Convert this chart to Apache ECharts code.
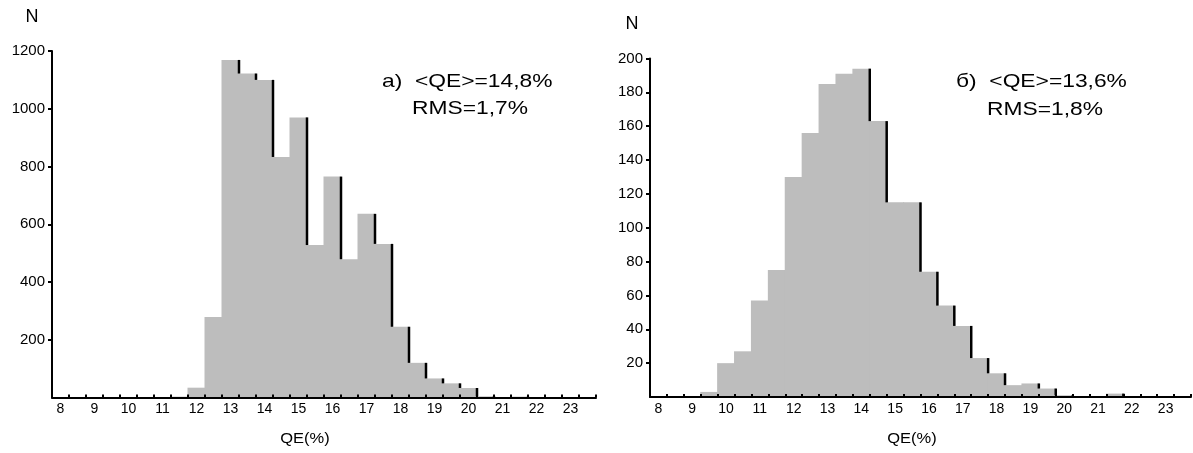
<!DOCTYPE html>
<html>
<head>
<meta charset="utf-8">
<script src="https://cdn.jsdelivr.net/npm/echarts@6/dist/echarts.min.js"></script>
<style>
  html, body { margin: 0; padding: 0; background: #fff; }
  #chart { width: 1193px; height: 453px; }
</style>
</head>
<body>
<div id="chart"></div>
<script>
// Histogram bins: centres from 8 to 23.5 in steps of 0.5 (%)
const binCenters = ['8','8.5','9','9.5','10','10.5','11','11.5','12','12.5','13','13.5','14','14.5','15','15.5',
                    '16','16.5','17','17.5','18','18.5','19','19.5','20','20.5','21','21.5','22','22.5','23','23.5'];

// Panel а): counts per bin
const countsA = [0,0,0,0,0,0,0,3,34,279,1169,1122,1100,833,970,528,
                 765,479,636,532,245,120,66,49,33,4,0,3,0,0,0,0];

// Panel б): counts per bin
const countsB = [0,0,0,3,20,27,57,75,130,156,185,191,194,163,115,115,
                 74,54,42,23,14,7,8,5,1,0,0,2,0,0,0,0];

// Y axis scales
const yMaxA = 1200, yStepA = 200;
const yMaxB = 200,  yStepB = 20;

const FONT = 'Liberation Sans, Arial, sans-serif';
const BAR_COLOR = '#bdbdbd';

// Histogram columns: [bin index, count]
function columns(counts) {
  return counts.map((c, i) => [i, c]);
}

// One filled column per bin, spanning the whole category band (slight overlap hides seams)
function renderColumn(params, api) {
  const i = api.value(0);
  const top = api.coord([i, api.value(1)]);
  const base = api.coord([i, 0]);
  const bw = api.size([1, 0])[0];
  return {
    type: 'rect',
    shape: { x: top[0] - bw / 2 - 0.5, y: top[1], width: bw + 1, height: base[1] - top[1] },
    style: { fill: BAR_COLOR }
  };
}

// Falling edges of the histogram outline: right edge of bin i, from its top down to the next bin's top
function fallingEdges(counts) {
  const out = [];
  for (let i = 0; i < counts.length - 1; i++) {
    if (counts[i] > counts[i + 1]) out.push([i, counts[i], counts[i + 1]]);
  }
  return out;
}

function renderEdge(params, api) {
  const i = api.value(0);
  const top = api.coord([i, api.value(1)]);
  const bottom = api.coord([i, api.value(2)]);
  const half = api.size([1, 0])[0] / 2;
  const x = top[0] + half;
  return {
    type: 'line',
    shape: { x1: x, y1: top[1], x2: x, y2: bottom[1] },
    style: { stroke: '#000', lineWidth: 2.5 }
  };
}

function xAxisFor(gridIndex) {
  return {
    type: 'category',
    gridIndex: gridIndex,
    data: binCenters,
    boundaryGap: true,
    z: 10,
    axisLine: { lineStyle: { color: '#000', width: 2 } },
    axisTick: { show: true, inside: true, length: 3, interval: 0, alignWithLabel: false,
                lineStyle: { color: '#000', width: 2 } },
    axisLabel: { interval: 1, margin: 5, color: '#000', fontFamily: FONT, fontSize: 14 },
    splitLine: { show: false }
  };
}

function yAxisFor(gridIndex, max, step) {
  return {
    type: 'value',
    gridIndex: gridIndex,
    min: 0, max: max, interval: step,
    z: 10,
    axisLine: { show: true, lineStyle: { color: '#000', width: 2 } },
    axisTick: { show: true, inside: false, length: 4, lineStyle: { color: '#000', width: 2 } },
    axisLabel: { showMinLabel: false, margin: 7, color: '#000', fontFamily: FONT, fontSize: 15,
                 formatter: v => String(v) },
    splitLine: { show: false }
  };
}

// Plain text element; sx widens the glyphs horizontally
function textEl(x, y, text, size, align, sx) {
  return {
    type: 'text', x: x, y: y, scaleX: sx || 1,
    style: { text: text, fill: '#000', font: size + 'px ' + FONT,
             textAlign: align || 'left', textVerticalAlign: 'middle' }
  };
}

const chart = echarts.init(document.getElementById('chart'), null, { renderer: 'canvas' });

chart.setOption({
  backgroundColor: '#fff',
  animation: false,
  grid: [
    { left: 52, top: 51, width: 544, height: 346.5 },
    { left: 650, top: 58.5, width: 541, height: 338.5 }
  ],
  xAxis: [xAxisFor(0), xAxisFor(1)],
  yAxis: [yAxisFor(0, yMaxA, yStepA), yAxisFor(1, yMaxB, yStepB)],
  series: [
    { type: 'custom', name: 'а', xAxisIndex: 0, yAxisIndex: 0, data: columns(countsA),
      renderItem: renderColumn, z: 2 },
    { type: 'custom', xAxisIndex: 0, yAxisIndex: 0, data: fallingEdges(countsA),
      renderItem: renderEdge, z: 5 },
    { type: 'custom', name: 'б', xAxisIndex: 1, yAxisIndex: 1, data: columns(countsB),
      renderItem: renderColumn, z: 2 },
    { type: 'custom', xAxisIndex: 1, yAxisIndex: 1, data: fallingEdges(countsB),
      renderItem: renderEdge, z: 5 }
  ],
  graphic: [
    textEl(32, 17, 'N', 18, 'center'),
    textEl(305, 439, 'QE(%)', 15, 'center', 1.1),
    textEl(382, 82, 'а)  <QE>=14,8%', 19, 'left', 1.2),
    textEl(412, 109, 'RMS=1,7%', 19, 'left', 1.2),
    textEl(632, 24, 'N', 18, 'center'),
    textEl(912, 439, 'QE(%)', 15, 'center', 1.1),
    textEl(956, 82, 'б)  <QE>=13,6%', 19, 'left', 1.2),
    textEl(987, 110, 'RMS=1,8%', 19, 'left', 1.2)
  ]
});
</script>
</body>
</html>
